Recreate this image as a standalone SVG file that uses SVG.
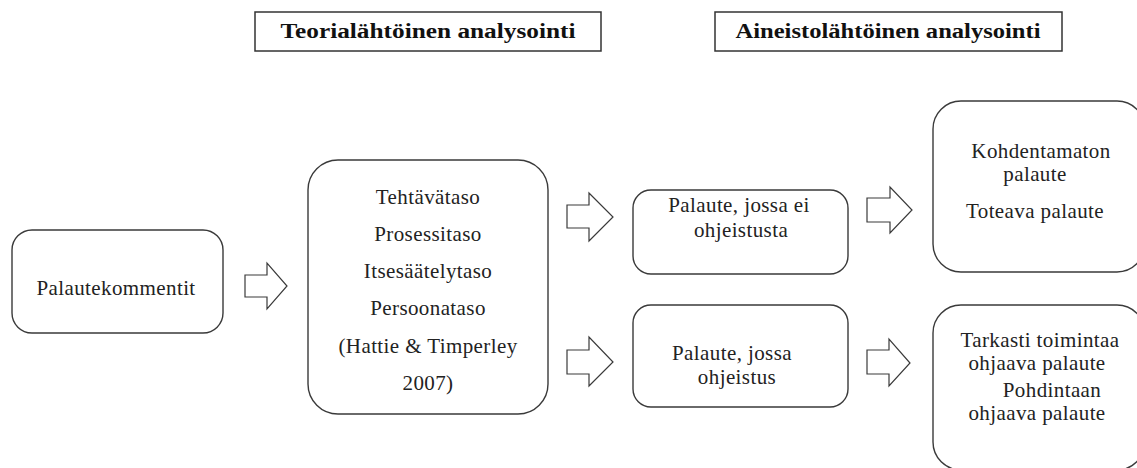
<svg xmlns="http://www.w3.org/2000/svg" width="1137" height="468" viewBox="0 0 1137 468">
<style>
.bg{fill:#ffffff}
.hdr{fill:#ffffff;stroke:#333333;stroke-width:1.5}
.box{fill:#ffffff;stroke:#3a3a3a;stroke-width:1.4}
.arr{fill:#ffffff;stroke:#3a3a3a;stroke-width:1.2;stroke-linejoin:miter}
.t{font-family:"Liberation Serif","Times New Roman",serif;font-size:21px;letter-spacing:0.4px;fill:#222222;text-anchor:middle}
.h{font-family:"Liberation Serif","Times New Roman",serif;font-size:20px;font-weight:bold;fill:#111111;text-anchor:middle}
</style>
<rect class="bg" x="0" y="0" width="1137" height="468"/>
<g id="header-teoria">
<rect class="hdr" x="255" y="12" width="346" height="39"/>
<text class="h" x="428" y="38" textLength="295" lengthAdjust="spacingAndGlyphs">Teorialähtöinen analysointi</text>
</g>
<g id="header-aineisto">
<rect class="hdr" x="715" y="12" width="347" height="39"/>
<text class="h" x="888" y="38" textLength="305" lengthAdjust="spacingAndGlyphs">Aineistolähtöinen analysointi</text>
</g>
<g id="node-palautekommentit">
<rect class="box" x="12" y="230" width="211" height="103" rx="20" ry="20"/>
<text class="t" x="116" y="295">Palautekommentit</text>
</g>
<g id="node-tasot">
<rect class="box" x="308" y="160" width="240" height="254" rx="30" ry="30"/>
<text class="t" x="428" y="204">Tehtävätaso</text>
<text class="t" x="428" y="241">Prosessitaso</text>
<text class="t" x="428" y="278">Itsesäätelytaso</text>
<text class="t" x="428" y="315">Persoonataso</text>
<text class="t" x="428" y="353">(Hattie &amp; Timperley</text>
<text class="t" x="428" y="390">2007)</text>
</g>
<g id="node-ei-ohjeistusta">
<rect class="box" x="633" y="190" width="215" height="84" rx="18" ry="18"/>
<text class="t" x="739" y="212">Palaute, jossa ei</text>
<text class="t" x="741" y="237">ohjeistusta</text>
</g>
<g id="node-ohjeistus">
<rect class="box" x="633" y="305" width="215" height="102" rx="18" ry="18"/>
<text class="t" x="732" y="360">Palaute, jossa</text>
<text class="t" x="737" y="384">ohjeistus</text>
</g>
<g id="node-kohdentamaton">
<rect class="box" x="933" y="101" width="212" height="171" rx="28" ry="28"/>
<text class="t" x="1041" y="158">Kohdentamaton</text>
<text class="t" x="1035" y="181">palaute</text>
<text class="t" x="1035" y="218">Toteava palaute</text>
</g>
<g id="node-ohjaava">
<rect class="box" x="933" y="305" width="212" height="165" rx="28" ry="28"/>
<text class="t" x="1040" y="347">Tarkasti toimintaa</text>
<text class="t" x="1037" y="370">ohjaava palaute</text>
<text class="t" x="1052" y="397">Pohdintaan</text>
<text class="t" x="1037" y="420">ohjaava palaute</text>
</g>
<g id="connectors">
<path class="arr" d="M245,275 H267 V263 L287,286 L267,309 V297 H245 Z"/>
<path class="arr" d="M567,205 H589 V193 L613,217 L589,241 V228 H567 Z"/>
<path class="arr" d="M567,350 H589 V337 L613,362 L589,386 V374 H567 Z"/>
<path class="arr" d="M867,198 H890 V187 L912,210 L890,233 V222 H867 Z"/>
<path class="arr" d="M867,350 H889 V339 L910,363 L889,386 V374 H867 Z"/>
</g>
</svg>
